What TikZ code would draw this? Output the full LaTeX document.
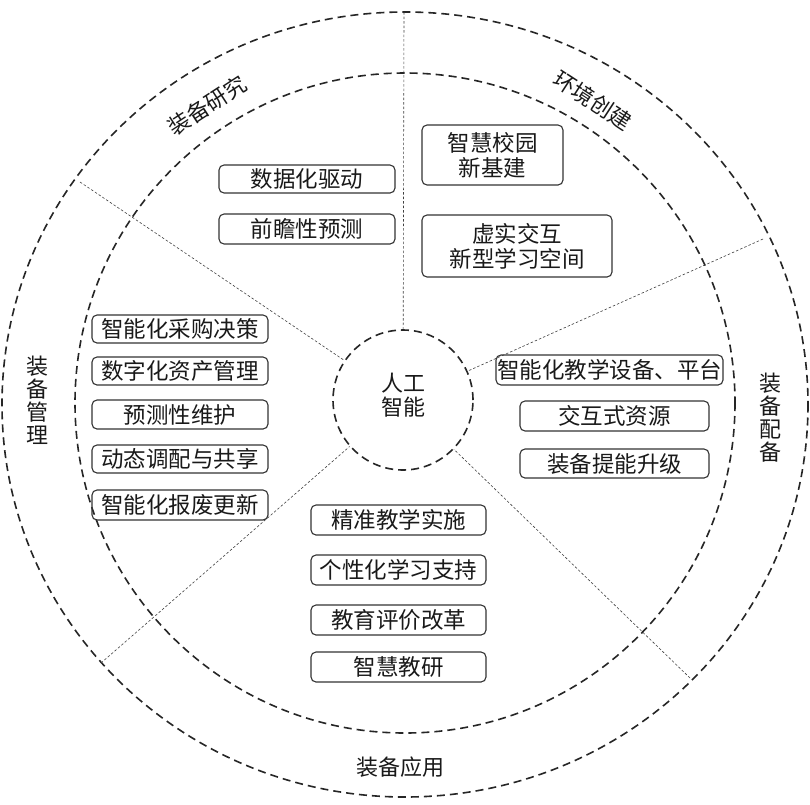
\documentclass[tikz,border=0pt]{standalone}
\usepackage{fontspec}
\newfontfamily\cjk{Noto Sans CJK SC}
\tikzset{
  ring/.style={draw=black!85, line width=1.6pt, dash pattern=on 8pt off 5pt},
  spoke/.style={draw=black!75, line width=0.6pt, dash pattern=on 2.5pt off 2pt},
  itembox/.style={draw=black!80, line width=1.1pt, rounded corners=5pt, inner sep=0pt,
    font=\cjk\fontsize{22.5}{25}\selectfont, align=center, text=black!90},
  sector/.style={inner sep=0pt, font=\cjk\fontsize{22}{23}\selectfont, align=center, text=black!90}
}
\begin{document}
\begin{tikzpicture}[x=1pt,y=-1pt]
\useasboundingbox[fill=white] (0,0) rectangle (810,804);
% rings
\draw[ring] (405,404.5) ellipse [x radius=403, y radius=392.5];
\draw[ring] (405,403) circle [radius=330];
\node[ring, circle, minimum size=140pt, inner sep=0pt, fill=white] (ai) at (403,400) {};
\node[sector, font=\cjk\fontsize{22}{24}\selectfont] (ait) at (403,395) {人工\\智能};
% spoke end points
\coordinate (o1) at (404,12);
\coordinate (o2) at (80,182);
\coordinate (o3) at (763,239);
\coordinate (o4) at (101,663);
\coordinate (o5) at (690,678);
\draw[spoke] (o1) -- (ai);
\draw[spoke] (o2) -- (ai);
\draw[spoke] (o3) -- (ai);
\draw[spoke] (o4) -- (ai);
\draw[spoke] (o5) -- (ai);
% sector labels
\node[sector, rotate=33] (lres) at (207,105) {装备研究};
\node[sector, rotate=-33] (lenv) at (593,100) {环境创建};
\node[sector] (lman) at (37,400) {装\\备\\管\\理};
\node[sector] (lpei) at (770,418) {装\\备\\配\\备};
\node[sector] (lapp) at (400,767) {装备应用};
% research
\node[itembox, minimum width=176pt, minimum height=28pt] (d1) at (307,179) {数据化驱动};
\node[itembox, minimum width=176pt, minimum height=30pt] (d2) at (307,229) {前瞻性预测};
% environment
\node[itembox, minimum width=141pt, minimum height=60pt] (e1) at (492.5,155) {智慧校园\\新基建};
\node[itembox, minimum width=190pt, minimum height=62pt] (e2) at (517,246) {虚实交互\\新型学习空间};
% management
\node[itembox, minimum width=176pt, minimum height=28pt] (m1) at (180,329) {智能化采购决策};
\node[itembox, minimum width=176pt, minimum height=28pt] (m2) at (180,371) {数字化资产管理};
\node[itembox, minimum width=176pt, minimum height=29pt] (m3) at (180,414.5) {预测性维护};
\node[itembox, minimum width=176pt, minimum height=28pt] (m4) at (180,459) {动态调配与共享};
\node[itembox, minimum width=176pt, minimum height=30pt] (m5) at (180,505) {智能化报废更新};
% equipping
\node[itembox, minimum width=227pt, minimum height=30pt] (p1) at (609.5,370) {智能化教学设备、平台};
\node[itembox, minimum width=189pt, minimum height=30pt] (p2) at (614.5,416) {交互式资源};
\node[itembox, minimum width=189pt, minimum height=29pt] (p3) at (614.5,463.5) {装备提能升级};
% application
\node[itembox, minimum width=175pt, minimum height=30pt] (a1) at (398.5,520) {精准教学实施};
\node[itembox, minimum width=175pt, minimum height=30pt] (a2) at (398.5,570) {个性化学习支持};
\node[itembox, minimum width=175pt, minimum height=30pt] (a3) at (398.5,620) {教育评价改革};
\node[itembox, minimum width=175pt, minimum height=30pt] (a4) at (398.5,667) {智慧教研};
\end{tikzpicture}
\end{document}
